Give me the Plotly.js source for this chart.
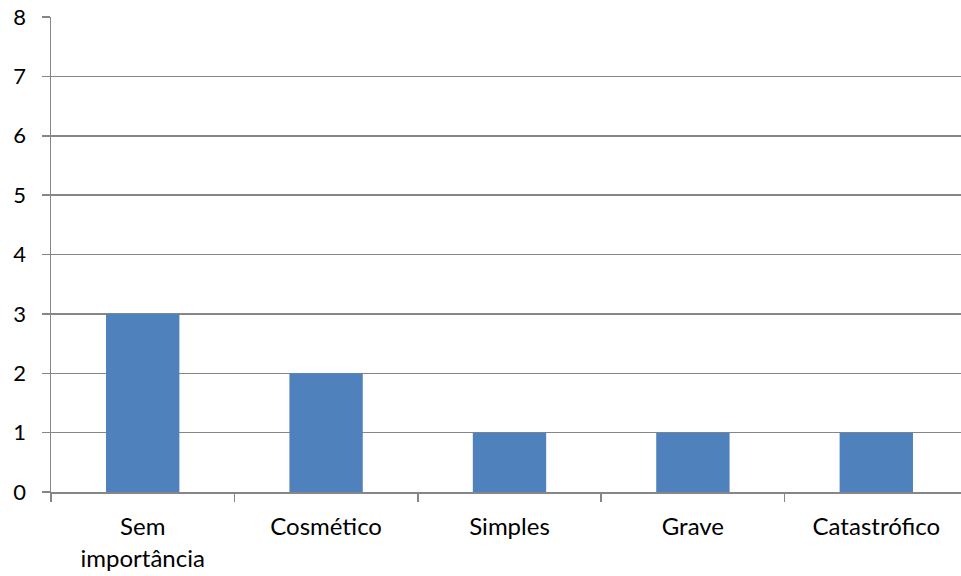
<!DOCTYPE html>
<html>
<head>
<meta charset="utf-8">
<script src="https://cdn.plot.ly/plotly-3.0.1.min.js"></script>
<style>html,body{margin:0;padding:0;overflow:hidden;background:#fff;}</style>
</head>
<body>
<div id="chart"></div>
<script>
const categories = ["Sem<br>importância", "Cosmético", "Simples", "Grave", "Catastrófico"];
const values = [3, 2, 1, 1, 1];
const yTicks = [0, 1, 2, 3, 4, 5, 6, 7, 8];

const trace = {
  type: "bar",
  x: categories,
  y: values,
  marker: {color: "#4F81BD"},
  hoverinfo: "x+y"
};

const layout = {
  width: 968,
  height: 576,
  margin: {l: 51, r: 0, t: 17, b: 84},
  paper_bgcolor: "#ffffff",
  plot_bgcolor: "#ffffff",
  bargap: 0.6,
  showlegend: false,
  font: {family: "Lato, Open Sans, sans-serif", size: 22, color: "#000000"},
  xaxis: {
    type: "category",
    showgrid: false,
    showline: true,
    linecolor: "#868686",
    linewidth: 1.5,
    ticks: "outside",
    tickson: "boundaries",
    ticklen: 8,
    tickcolor: "#868686",
    tickwidth: 1.5,
    tickfont: {size: 24},
    ticklabelstandoff: 13,
    fixedrange: true
  },
  yaxis: {
    range: [0, 8],
    tickvals: yTicks,
    ticktext: yTicks.map(String),
    showgrid: true,
    gridcolor: "#868686",
    gridwidth: 1.5,
    zeroline: false,
    showline: true,
    linecolor: "#868686",
    linewidth: 1.5,
    ticks: "outside",
    ticklen: 8,
    tickcolor: "#868686",
    tickwidth: 1.5,
    tickfont: {size: 22},
    ticklabelstandoff: 11,
    fixedrange: true
  }
};

Plotly.newPlot("chart", [trace], layout, {displayModeBar: false, staticPlot: true});
</script>
</body>
</html>
